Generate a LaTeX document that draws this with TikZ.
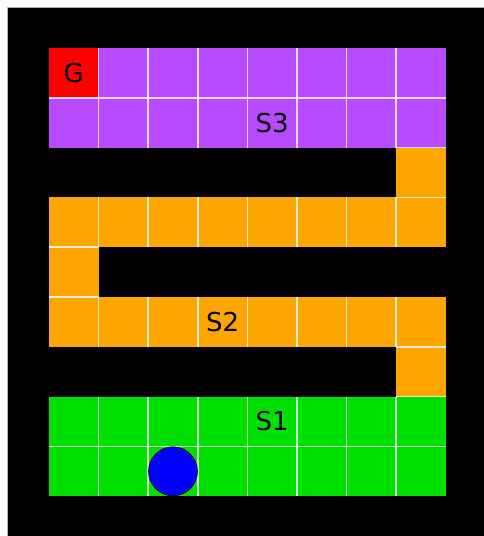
\documentclass[tikz,border=0pt]{standalone}
\usepackage{fontspec}
\setmainfont{DejaVu Sans}
\usetikzlibrary{positioning}

\definecolor{goalred}{RGB}{255,0,0}
\definecolor{topzone}{RGB}{184,74,255}
\definecolor{midzone}{RGB}{255,165,0}
\definecolor{lowzone}{RGB}{0,224,0}
\definecolor{agentblue}{RGB}{0,0,255}

\begin{document}
\begin{tikzpicture}[
x=1pt, y=-1pt,
cell/.style={minimum width=49.6pt, minimum height=49.8pt, inner sep=0pt, outer sep=0pt},
gridline/.style={draw=white, draw opacity=0.8, line width=1.6pt},
tag/.style={font=\fontsize{26}{26}\selectfont, inner sep=0pt}
]
\useasboundingbox (0,0) rectangle (484,536);
\fill[white] (0,0) rectangle (484,536);
\filldraw[fill=black, draw=gray!60, line width=0.8pt] (7,7) rectangle (485,537);

% open cells, row by row
\foreach \r/\col in {0/topzone,1/topzone,3/midzone,5/midzone,7/lowzone,8/lowzone}
  \foreach \c in {0,...,7}
    \node[cell, fill=\col] (c\r\c) at ({73.8+49.6*\c},{72.9+49.8*\r}) {};
\node[cell, fill=midzone] (c27) at ({73.8+49.6*7},{72.9+49.8*2}) {};
\node[cell, fill=midzone] (c40) at ({73.8},{72.9+49.8*4}) {};
\node[cell, fill=midzone] (c67) at ({73.8+49.6*7},{72.9+49.8*6}) {};
\node[cell, fill=goalred] (goal) at (c00) {};

% lines between neighbouring cells
\foreach \r in {0,1,3,5,7,8}
  \foreach \c in {1,...,7}
    \draw[gridline] (c\r\c.north west) -- (c\r\c.south west);
\draw[gridline] (c10.north west) -- (c17.north east);
\draw[gridline] (c80.north west) -- (c87.north east);
\foreach \n in {c27,c40,c67} {
  \draw[gridline] (\n.north west) -- (\n.north east);
  \draw[gridline] (\n.south west) -- (\n.south east);
}

\node[tag] (g) at (goal) {G};
\node[tag] (s3) at (c14) {S3};
\node[tag] (s2) at (c53) {S2};
\node[tag] (s1) at (c74) {S1};
\node[circle, draw=black, line width=0.6pt, fill=agentblue, minimum size=49pt, inner sep=0pt] (agent) at (c82) {};
\end{tikzpicture}
\end{document}
